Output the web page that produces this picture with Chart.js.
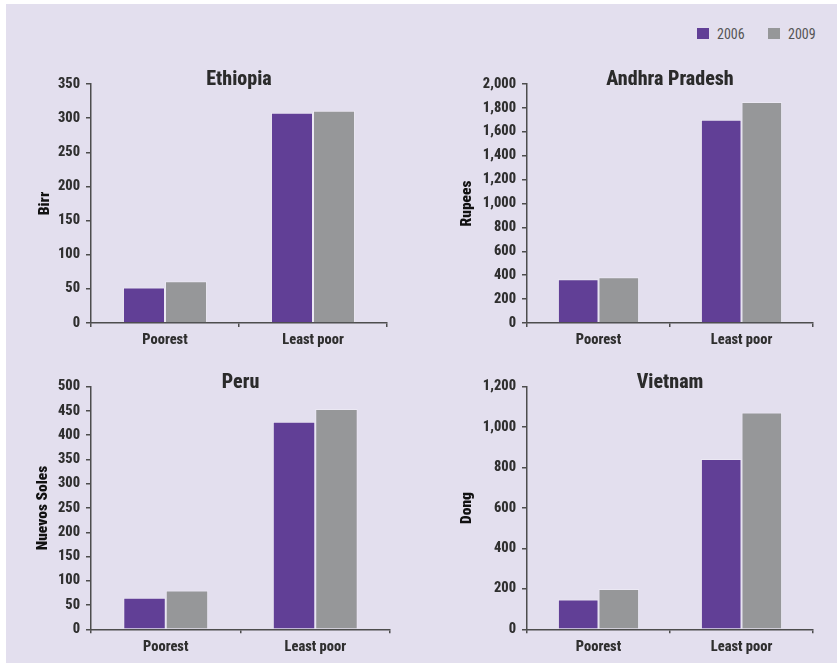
<!DOCTYPE html>
<html>
<head>
<meta charset="utf-8">
<script src="https://cdn.jsdelivr.net/npm/chart.js@4.4.1/dist/chart.umd.min.js"></script>
<style>
  html, body { margin: 0; padding: 0; background: #ffffff; }
  body { width: 837px; height: 664px; position: relative; overflow: hidden; }
  #panel { position: absolute; left: 6px; top: 4px; width: 831px; height: 659px; background: #e3dfee; }
  .cv { position: absolute; }
  #legend { position: absolute; left: 0; top: 0; font-family: Roboto, 'Open Sans', sans-serif; font-stretch: condensed; font-weight: 400; font-size: 14px; color: #555; }
  .sw { position: absolute; width: 12px; height: 11px; }
  .lt { position: absolute; line-height: 14px; }
</style>
</head>
<body>
<div id="panel"></div>
<div id="legend">
  <div class="sw" style="left:697px;top:28px;background:#613f96"></div>
  <div class="lt" id="lg0" style="left:717px;top:27px"></div>
  <div class="sw" style="left:768px;top:28px;background:#969799"></div>
  <div class="lt" id="lg1" style="left:788px;top:27px"></div>
</div>
<canvas id="c1" class="cv" width="418" height="312" style="left:0px;top:40px;width:418px;height:312px"></canvas>
<canvas id="c2" class="cv" width="419" height="312" style="left:418px;top:40px;width:419px;height:312px"></canvas>
<canvas id="c3" class="cv" width="418" height="318" style="left:0px;top:344px;width:418px;height:318px"></canvas>
<canvas id="c4" class="cv" width="419" height="318" style="left:418px;top:344px;width:419px;height:318px"></canvas>
<script>
// ---- data ----
const categories = ['Poorest', 'Least poor'];
const seriesNames = ['2006', '2009'];
const ethiopia2006 = [52, 308];
const ethiopia2009 = [61, 311];
const andhra2006 = [366, 1700];
const andhra2009 = [382, 1850];
const peru2006 = [65, 428];
const peru2009 = [80, 454];
const vietnam2006 = [148, 842];
const vietnam2009 = [199, 1073];
const panelTitles = ['Ethiopia', 'Andhra Pradesh', 'Peru', 'Vietnam'];
const unitTitles = ['Birr', 'Rupees', 'Nuevos Soles', 'Dong'];
const axisMax = [350, 2000, 500, 1200];
const axisStep = [50, 200, 50, 200];

document.getElementById('lg0').textContent = seriesNames[0];
document.getElementById('lg1').textContent = seriesNames[1];

const FONT = "Roboto, 'Open Sans', sans-serif";
const BOLD = '800 condensed';
const BLACK = '900 condensed';
const PURPLE = '#613f96';
const GRAY = '#969799';
const AXIS = '#4d4d4d';

function makeChart(id, idx, d2006, d2009, geo) {
  const ctx = document.getElementById(id);
  return new Chart(ctx, {
    type: 'bar',
    data: {
      labels: categories,
      datasets: [
        { label: seriesNames[0], data: d2006, backgroundColor: PURPLE, borderColor: 'rgba(255,255,255,0.3)', borderWidth: 1, barPercentage: 1, categoryPercentage: 0.568 },
        { label: seriesNames[1], data: d2009, backgroundColor: GRAY, borderColor: 'rgba(255,255,255,0.3)', borderWidth: 1, barPercentage: 1, categoryPercentage: 0.568 }
      ]
    },
    options: {
      responsive: false,
      animation: false,
      locale: 'en-US',
      layout: { padding: { left: 0, right: geo.padRight, top: geo.padTop, bottom: 0 } },
      plugins: {
        legend: { display: false },
        tooltip: { enabled: false },
        title: {
          display: true,
          text: panelTitles[idx],
          fullSize: false,
          color: '#2b2b2b',
          font: { family: FONT, size: 20, weight: BOLD, lineHeight: 0.6 },
          padding: { top: 2, bottom: -2 }
        }
      },
      scales: {
        x: {
          afterFit: (s) => { s.height = geo.xH; },
          grid: { display: true, drawOnChartArea: false, drawTicks: true, tickLength: 4, color: AXIS, lineWidth: 1.5 },
          border: { display: true, color: AXIS, width: 1.5 },
          ticks: { color: '#2f2f2f', padding: 5, font: { family: FONT, size: 14.5, weight: BOLD } }
        },
        y: {
          min: 0,
          max: axisMax[idx],
          afterFit: (s) => { s.width = geo.yW; },
          grid: { display: true, drawOnChartArea: false, drawTicks: true, tickLength: 5, color: AXIS, lineWidth: 1.5 },
          border: { display: true, color: AXIS, width: 1.5 },
          ticks: { stepSize: axisStep[idx], color: '#2f2f2f', padding: 6, font: { family: FONT, size: 14.5, weight: BOLD } },
          title: {
            display: true,
            text: unitTitles[idx],
            color: '#111',
            font: { family: FONT, size: 15.5, weight: BLACK },
            padding: { top: geo.yTitlePad, bottom: 0 }
          }
        }
      }
    }
  });
}

makeChart('c1', 0, ethiopia2006, ethiopia2009, { padRight: 31, padTop: 32, xH: 29, yW: 91, yTitlePad: 36 });
makeChart('c2', 1, andhra2006, andhra2009, { padRight: 24, padTop: 32, xH: 29, yW: 109, yTitlePad: 40 });
makeChart('c3', 2, peru2006, peru2009, { padRight: 28, padTop: 30.7, xH: 32.7, yW: 91, yTitlePad: 34 });
makeChart('c4', 3, vietnam2006, vietnam2009, { padRight: 24, padTop: 30.7, xH: 32.7, yW: 109, yTitlePad: 40 });
</script>
</body>
</html>
